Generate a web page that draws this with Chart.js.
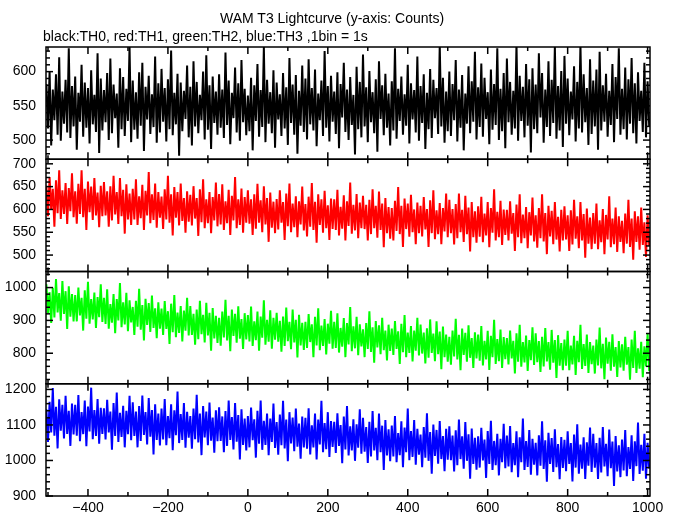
<!DOCTYPE html>
<html>
<head>
<meta charset="utf-8">
<script src="https://cdn.jsdelivr.net/npm/chart.js@4.4.1/dist/chart.umd.min.js"></script>
<style>
  html, body { margin: 0; padding: 0; background: #fff; }
  #wrap { position: relative; width: 679px; height: 515px; }
  canvas { position: absolute; left: 0; top: 0; }
  .txt {
    position: absolute;
    font: 14px "Liberation Sans", Arial, sans-serif;
    line-height: 14px;
    color: #000;
    white-space: nowrap;
  }
  #title { left: 220px; top: 11px; }
  #subtitle { left: 43px; top: 29px; }
</style>
</head>
<body>
<div id="wrap">
  <canvas id="lightcurve" width="679" height="515"></canvas>
  <div class="txt" id="title">WAM T3 Lightcurve (y-axis: Counts)</div>
  <div class="txt" id="subtitle">black:TH0, red:TH1, green:TH2, blue:TH3 ,1bin = 1s</div>
</div>
<script>
// time grid (s): one sample every 4 s
const tStart = -504;
const tStep = 4;

// TH0 (black)
const th0 = [
  582, 517, 601, 492, 574, 529, 596, 508, 621, 499, 571, 524, 588, 511, 634, 503, 579, 520,
  593, 486, 569, 527, 610, 505, 584, 518, 576, 495, 602, 523, 566, 512, 627, 481, 590, 514,
  573, 526, 598, 500, 619, 510, 581, 532, 568, 489, 605, 516, 592, 506, 575, 528, 637, 497,
  587, 515, 570, 502, 599, 521, 613, 484, 578, 530, 594, 509, 567, 519, 622, 496, 583, 511,
  604, 527, 576, 498, 589, 516, 631, 507, 569, 523, 597, 477, 584, 513, 572, 531, 609, 504,
  578, 492, 615, 520, 585, 510, 566, 529, 600, 501, 624, 515, 580, 487, 593, 525, 571, 508,
  596, 518, 574, 503, 628, 522, 587, 494, 569, 532, 606, 511, 583, 499, 617, 526, 575, 507,
  565, 513, 591, 485, 580, 528, 611, 505, 573, 519, 636, 497, 588, 524, 570, 510, 602, 489,
  584, 530, 567, 506, 598, 517, 577, 493, 620, 525, 581, 508, 595, 480, 572, 521, 609, 512,
  590, 501, 618, 523, 576, 514, 603, 491, 568, 529, 587, 506, 630, 518, 579, 498, 594, 527,
  571, 509, 599, 488, 582, 533, 613, 512, 574, 500, 592, 522, 566, 479, 607, 516, 585, 504,
  625, 520, 577, 497, 601, 526, 570, 510, 589, 483, 615, 531, 580, 507, 597, 518, 568, 492,
  586, 514, 634, 502, 575, 528, 593, 508, 567, 521, 610, 495, 583, 530, 573, 511, 622, 499,
  579, 525, 596, 487, 569, 516, 604, 503, 588, 532, 576, 509, 639, 520, 591, 496, 571, 513,
  600, 506, 582, 529, 617, 498, 574, 518, 595, 485, 568, 524, 608, 510, 586, 527, 629, 501,
  577, 519, 612, 505, 591, 531, 570, 494, 603, 515, 582, 522, 634, 500, 575, 513, 598, 488,
  619, 526, 585, 508, 572, 517, 641, 499, 594, 528, 578, 504, 611, 521, 589, 482, 605, 516,
  581, 510, 627, 533, 598, 496, 574, 519, 615, 506, 588, 525, 637, 502, 579, 514, 601, 490,
  623, 524, 590, 507, 571, 530, 608, 498, 585, 517, 640, 511, 596, 526, 576, 493, 618, 509,
  587, 520, 603, 486, 629, 514, 580, 527, 597, 505, 572, 522, 611, 497, 592, 531, 634, 508,
  575, 516, 606, 501, 589, 524, 620, 510, 583, 495, 599, 528, 572, 512, 613, 504, 586, 519
];

// TH1 (red)
const th1 = [
  652, 585, 671, 600, 645, 562, 664, 592, 686, 579, 642, 590, 658, 568, 647, 596, 679, 583,
  640, 569, 656, 590, 686, 583, 645, 555, 661, 594, 650, 577, 669, 587, 637, 561, 652, 585,
  660, 587, 640, 562, 651, 576, 674, 589, 638, 568, 669, 585, 643, 547, 655, 578, 635, 566,
  645, 578, 666, 566, 629, 581, 654, 555, 641, 587, 682, 570, 633, 577, 657, 560, 638, 582,
  628, 557, 644, 578, 674, 571, 633, 543, 649, 582, 638, 565, 657, 575, 625, 549, 640, 573,
  632, 565, 651, 580, 625, 542, 644, 572, 666, 559, 622, 570, 638, 548, 627, 576, 659, 563,
  634, 567, 655, 555, 618, 570, 643, 544, 630, 576, 671, 559, 622, 566, 646, 549, 627, 571,
  642, 569, 622, 544, 633, 558, 656, 571, 620, 550, 651, 567, 625, 529, 637, 560, 617, 548,
  623, 556, 642, 571, 616, 533, 635, 563, 657, 550, 613, 561, 629, 539, 618, 567, 650, 554,
  612, 541, 628, 562, 658, 555, 617, 527, 633, 566, 622, 549, 641, 559, 609, 533, 624, 557,
  622, 555, 643, 543, 606, 558, 631, 532, 618, 564, 659, 547, 610, 554, 634, 537, 615, 559,
  630, 557, 610, 532, 621, 546, 644, 559, 608, 538, 639, 555, 613, 517, 625, 548, 605, 536,
  603, 532, 619, 553, 649, 546, 608, 518, 624, 557, 613, 540, 632, 550, 600, 524, 615, 548,
  608, 541, 627, 556, 601, 518, 620, 548, 642, 535, 598, 546, 614, 524, 603, 552, 635, 539,
  621, 548, 601, 523, 612, 537, 635, 550, 599, 529, 630, 546, 604, 508, 616, 539, 596, 527,
  607, 540, 628, 528, 591, 543, 616, 517, 603, 549, 644, 532, 595, 539, 619, 522, 600, 544,
  599, 532, 618, 547, 592, 509, 611, 539, 633, 526, 589, 537, 605, 515, 594, 543, 626, 530,
  587, 516, 603, 537, 633, 530, 592, 502, 608, 541, 597, 524, 616, 534, 584, 508, 599, 532,
  607, 534, 587, 509, 598, 523, 621, 536, 585, 515, 616, 532, 590, 494, 602, 525, 582, 513,
  592, 525, 613, 513, 576, 528, 601, 502, 588, 534, 629, 517, 580, 524, 604, 507, 585, 529,
  575, 504, 591, 525, 621, 518, 580, 490, 596, 529, 585, 512, 604, 522, 572, 496, 587, 520
];

// TH2 (green)
const th2 = [
  1010, 922, 986, 892, 999, 909, 1026, 924, 983, 899, 1020, 920, 989, 874, 1004, 911, 980, 897,
  977, 897, 1000, 915, 969, 869, 992, 905, 1018, 890, 965, 903, 985, 877, 971, 910, 1010, 895,
  969, 889, 995, 875, 950, 893, 980, 861, 965, 900, 1014, 879, 955, 888, 984, 867, 961, 894,
  941, 856, 960, 881, 996, 872, 947, 839, 966, 886, 953, 865, 976, 877, 937, 846, 955, 875,
  936, 856, 959, 874, 928, 828, 951, 864, 977, 849, 924, 862, 944, 836, 930, 869, 969, 854,
  944, 856, 920, 826, 933, 843, 960, 858, 917, 833, 954, 854, 923, 808, 938, 845, 914, 831,
  908, 823, 927, 848, 963, 839, 914, 806, 933, 853, 920, 832, 943, 844, 904, 813, 922, 842,
  916, 836, 942, 822, 897, 840, 927, 808, 912, 847, 961, 826, 902, 835, 931, 814, 908, 841,
  923, 835, 899, 805, 912, 822, 939, 837, 896, 812, 933, 833, 902, 787, 917, 824, 893, 810,
  896, 816, 919, 834, 888, 788, 911, 824, 937, 809, 884, 822, 904, 796, 890, 829, 929, 814,
  896, 816, 922, 802, 877, 820, 907, 788, 892, 827, 941, 806, 882, 815, 911, 794, 888, 821,
  873, 788, 892, 813, 928, 804, 879, 771, 898, 818, 885, 797, 908, 809, 869, 778, 887, 807,
  875, 795, 898, 813, 867, 767, 890, 803, 916, 788, 863, 801, 883, 775, 869, 808, 908, 793,
  887, 799, 863, 769, 876, 786, 903, 801, 860, 776, 897, 797, 866, 751, 881, 788, 857, 774,
  850, 765, 869, 790, 905, 781, 856, 748, 875, 795, 862, 774, 885, 786, 846, 755, 864, 784,
  857, 777, 883, 763, 838, 781, 868, 749, 853, 788, 902, 767, 843, 776, 872, 755, 849, 782,
  846, 766, 869, 784, 838, 738, 861, 774, 887, 759, 834, 772, 854, 746, 840, 779, 879, 764,
  861, 773, 837, 743, 850, 760, 877, 775, 834, 750, 871, 771, 840, 725, 855, 762, 831, 748,
  842, 762, 868, 748, 823, 766, 853, 734, 838, 773, 887, 752, 828, 761, 857, 740, 834, 767,
  823, 738, 842, 763, 878, 754, 829, 721, 848, 768, 835, 747, 858, 759, 819, 728, 837, 757,
  827, 747, 850, 765, 819, 719, 842, 755, 868, 740, 815, 753, 835, 727, 821, 760, 860, 745
];

// TH3 (blue)
const th3 = [
  1144, 1052, 1165, 1079, 1204, 1070, 1151, 1034, 1172, 1084, 1157, 1062, 1182, 1075, 1140, 1041, 1160, 1073,
  1157, 1070, 1184, 1054, 1136, 1074, 1169, 1040, 1152, 1082, 1205, 1060, 1142, 1069, 1173, 1047, 1148, 1075,
  1147, 1059, 1171, 1079, 1138, 1030, 1162, 1069, 1191, 1052, 1134, 1066, 1154, 1037, 1140, 1074, 1182, 1057,
  1164, 1069, 1138, 1037, 1153, 1055, 1183, 1072, 1136, 1045, 1176, 1067, 1142, 1017, 1158, 1058, 1132, 1042,
  1146, 1059, 1173, 1043, 1125, 1063, 1158, 1029, 1141, 1071, 1194, 1049, 1131, 1058, 1162, 1036, 1137, 1064,
  1125, 1033, 1146, 1060, 1185, 1051, 1132, 1015, 1153, 1065, 1138, 1043, 1163, 1056, 1121, 1022, 1141, 1054,
  1150, 1055, 1124, 1023, 1139, 1041, 1169, 1058, 1122, 1031, 1162, 1053, 1128, 1003, 1144, 1044, 1118, 1028,
  1125, 1037, 1149, 1057, 1116, 1008, 1140, 1047, 1169, 1030, 1112, 1044, 1132, 1015, 1118, 1052, 1160, 1035,
  1108, 1016, 1129, 1043, 1168, 1034, 1115, 998, 1136, 1048, 1121, 1026, 1146, 1039, 1104, 1005, 1124, 1037,
  1120, 1033, 1147, 1017, 1099, 1037, 1132, 1003, 1115, 1045, 1168, 1023, 1105, 1032, 1136, 1010, 1111, 1038,
  1109, 1021, 1133, 1041, 1100, 992, 1124, 1031, 1153, 1014, 1096, 1028, 1116, 999, 1102, 1036, 1144, 1019,
  1120, 1025, 1094, 993, 1109, 1011, 1139, 1028, 1092, 1001, 1132, 1023, 1098, 973, 1114, 1014, 1088, 998,
  1098, 1011, 1125, 995, 1077, 1015, 1110, 981, 1093, 1023, 1146, 1001, 1083, 1010, 1114, 988, 1089, 1016,
  1073, 981, 1094, 1008, 1133, 999, 1080, 963, 1101, 1013, 1086, 991, 1111, 1004, 1069, 970, 1089, 1002,
  1096, 1001, 1070, 969, 1085, 987, 1115, 1004, 1068, 977, 1108, 999, 1074, 949, 1090, 990, 1064, 974,
  1068, 980, 1092, 1000, 1059, 951, 1083, 990, 1112, 973, 1055, 987, 1075, 958, 1061, 995, 1103, 978,
  1070, 983, 1097, 967, 1049, 987, 1082, 953, 1065, 995, 1118, 973, 1055, 982, 1086, 960, 1061, 988,
  1050, 958, 1071, 985, 1110, 976, 1057, 940, 1078, 990, 1063, 968, 1088, 981, 1046, 947, 1066, 979,
  1058, 970, 1082, 990, 1049, 941, 1073, 980, 1102, 963, 1045, 977, 1065, 948, 1051, 985, 1093, 968,
  1075, 980, 1049, 948, 1064, 966, 1094, 983, 1047, 956, 1087, 978, 1053, 928, 1069, 969, 1043, 953,
  1059, 972, 1086, 956, 1038, 976, 1071, 942, 1054, 984, 1107, 962, 1044, 971, 1075, 949, 1050, 977
];

// tick labels
const xTicks = [-400, -200, 0, 200, 400, 600, 800, 1000];
const yTicks0 = [500, 550, 600];
const yTicks1 = [500, 550, 600, 650, 700];
const yTicks2 = [800, 900, 1000];
const yTicks3 = [900, 1000, 1100, 1200];

const series = [th0, th1, th2, th3];
const colors = ['#000000', '#ff0000', '#00ff00', '#0000ff'];
const names = ['TH0', 'TH1', 'TH2', 'TH3'];
const panelKeys = ['y0', 'y1', 'y2', 'y3'];
const panelTicks = [yTicks0, yTicks1, yTicks2, yTicks3];
const panelRange = [[472, 636], [464, 710], [707, 1049], [900, 1216]];
const minorSteps = [10, 10, 20, 20];

const times = th0.map((_, i) => tStart + i * tStep);

// clip each curve to its own panel, then draw frames + inward ticks
const panelFrame = {
  id: 'panelFrame',
  beforeDatasetDraw(chart, args) {
    const { ctx, chartArea } = chart;
    const ys = args.meta.yScale;
    ctx.save();
    ctx.beginPath();
    ctx.rect(chartArea.left, ys.top, chartArea.right - chartArea.left, ys.bottom - ys.top);
    ctx.clip();
  },
  afterDatasetDraw(chart) {
    chart.ctx.restore();
  },
  afterDraw(chart) {
    const { ctx, chartArea, scales } = chart;
    const xs = scales.x;
    const left = chartArea.left;
    const right = chartArea.right;
    const seg = (x1, y1, x2, y2) => {
      ctx.beginPath();
      ctx.moveTo(x1, y1);
      ctx.lineTo(x2, y2);
      ctx.stroke();
    };
    ctx.save();
    ctx.strokeStyle = '#000';
    ctx.lineWidth = 1.5;
    panelKeys.forEach((key, p) => {
      const ys = scales[key];
      const top = ys.top;
      const bottom = ys.bottom;
      for (let v = Math.ceil(xs.min / 100) * 100; v <= xs.max; v += 100) {
        const px = xs.getPixelForValue(v);
        const len = xTicks.includes(v) ? 7 : 4;
        seg(px, top, px, top + len);
        seg(px, bottom, px, bottom - len);
      }
      const step = minorSteps[p];
      for (let v = Math.ceil(ys.min / step) * step; v <= ys.max; v += step) {
        const py = ys.getPixelForValue(v);
        const len = panelTicks[p].includes(v) ? 7 : 4;
        seg(left, py, left + len, py);
        seg(right, py, right - len, py);
      }
    });
    panelKeys.forEach((key) => {
      const ys = scales[key];
      ctx.lineWidth = 1.5;
      ctx.strokeRect(left, ys.top, right - left, ys.bottom - ys.top);
    });
    ctx.restore();
  },
};

const yScale = (p) => ({
  type: 'linear',
  position: 'left',
  stack: 'panels',
  stackWeight: 1,
  weight: 4 - p,
  min: panelRange[p][0],
  max: panelRange[p][1],
  grid: { display: false, drawTicks: false },
  border: { display: false },
  afterBuildTicks: (s) => {
    s.ticks = panelTicks[p].map((v) => ({ value: v }));
  },
  afterFit: (s) => {
    s.width = 46;
  },
  ticks: {
    autoSkip: false,
    color: '#000',
    padding: 10,
    font: { family: '"Liberation Sans", Arial, sans-serif', size: 14 },
    callback: (v) => String(v),
  },
});

const scales = {
  x: {
    type: 'linear',
    position: 'bottom',
    min: -505,
    max: 1006,
    grid: { display: false, drawTicks: false },
    border: { display: false },
    afterBuildTicks: (s) => {
      s.ticks = xTicks.map((v) => ({ value: v }));
    },
    afterFit: (s) => {
      s.height = 19;
    },
    ticks: {
      autoSkip: false,
      color: '#000',
      padding: 4,
      maxRotation: 0,
      font: { family: '"Liberation Sans", Arial, sans-serif', size: 14 },
      callback: (v) => (v < 0 ? '\u2212' + -v : String(v)),
    },
  },
};
panelKeys.forEach((key, p) => {
  scales[key] = yScale(p);
});

const ctx = document.getElementById('lightcurve').getContext('2d');
new Chart(ctx, {
  type: 'line',
  data: {
    datasets: series.map((vals, p) => ({
      label: names[p],
      data: vals.map((v, i) => ({ x: times[i], y: v })),
      yAxisID: panelKeys[p],
      borderColor: colors[p],
      borderWidth: 2,
      pointRadius: 0,
      tension: 0,
      fill: false,
    })),
  },
  options: {
    responsive: false,
    animation: false,
    layout: { padding: { top: 47, right: 29, left: 0, bottom: 0 } },
    plugins: {
      legend: { display: false },
      tooltip: { enabled: false },
    },
    scales: scales,
  },
  plugins: [panelFrame],
});
</script>
</body>
</html>
